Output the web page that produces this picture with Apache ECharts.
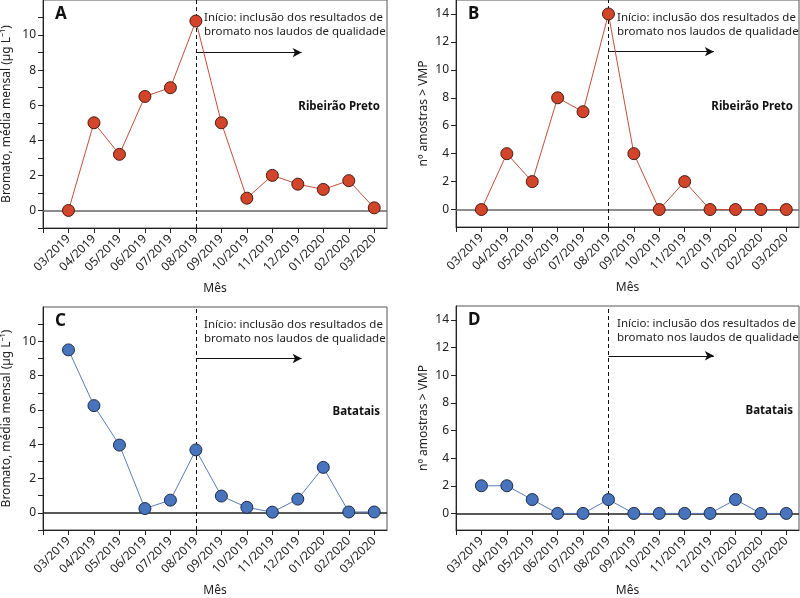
<!DOCTYPE html>
<html>
<head>
<meta charset="utf-8">
<script src="https://cdn.jsdelivr.net/npm/echarts@6/dist/echarts.min.js"></script>
<style>html,body{margin:0;padding:0;background:#fff}#c{width:800px;height:598px}</style>
</head>
<body>
<div id="c"></div>
<script>
const months = ['03/2019','04/2019','05/2019','06/2019','07/2019','08/2019','09/2019','10/2019','11/2019','12/2019','01/2020','02/2020','03/2020'];
const ribeiraoBromato = [0, 5, 3.2, 6.5, 7, 10.8, 5, 0.7, 2, 1.5, 1.2, 1.7, 0.15];
const ribeiraoAmostras = [0, 4, 2, 8, 7, 14, 4, 0, 2, 0, 0, 0, 0];
const batataisBromato = [9.5, 6.25, 3.95, 0.25, 0.74, 3.67, 0.98, 0.32, 0.04, 0.8, 2.65, 0.05, 0.05];
const batataisAmostras = [2, 2, 1, 0, 0, 1, 0, 0, 0, 0, 1, 0, 0];
const bromatoLabels = [0, 2, 4, 6, 8, 10];
const bromatoTicks = [-1, 0, 1, 2, 3, 4, 5, 6, 7, 8, 9, 10, 11];
const amostrasLabels = [0, 2, 4, 6, 8, 10, 12, 14];
const startMonthIndex = 5; // 08/2019
const noteText = 'Início: inclusão dos resultados de\nbromato nos laudos de qualidade';
const panelLetters = ['A', 'B', 'C', 'D'];
const cityNames = ['Ribeirão Preto', 'Ribeirão Preto', 'Batatais', 'Batatais'];
const yNames = ['Bromato, média mensal (µg L⁻¹)', 'nº amostras > VMP', 'Bromato, média mensal (µg L⁻¹)', 'nº amostras > VMP'];

const FONT = 'Noto Sans';
const RED = '#d2452a', RED_LINE = '#c0503c', RED_BORDER = '#4a1a10';
const BLUE = '#4874bd', BLUE_LINE = '#5a7db5', BLUE_BORDER = '#1c2c48';

const panels = [
  {grid:{left:43, top:0, width:344, height:228}, ymin:-1, ymax:12, labels:bromatoLabels, ticks:bromatoTicks, data:ribeiraoBromato, color:RED, line:RED_LINE, border:RED_BORDER, arrowY:9, zero:'#666'},
  {grid:{left:456, top:0, width:343, height:227}, ymin:-1.25, ymax:15, labels:amostrasLabels, ticks:amostrasLabels, data:ribeiraoAmostras, color:RED, line:RED_LINE, border:RED_BORDER, arrowY:11.3, zero:'#666'},
  {grid:{left:43, top:307, width:344, height:226}, ymin:-1, ymax:12, labels:bromatoLabels, ticks:bromatoTicks, data:batataisBromato, color:BLUE, line:BLUE_LINE, border:BLUE_BORDER, arrowY:9, zero:'#222'},
  {grid:{left:456, top:306, width:343, height:226}, ymin:-1.2, ymax:15, labels:amostrasLabels, ticks:amostrasLabels, data:batataisAmostras, color:BLUE, line:BLUE_LINE, border:BLUE_BORDER, arrowY:11.4, zero:'#222'}
];

const xTickVals = [0].concat(months.map((m, i) => i + 1));
const xLabelVals = months.map((m, i) => i + 1);

const grids = [], xAxes = [], yAxes = [], series = [], graphics = [];
panels.forEach((p, k) => {
  grids.push(Object.assign({show:true, borderColor:'#555', borderWidth:1, backgroundColor:'transparent'}, p.grid));
  xAxes.push({
    type:'value', gridIndex:k, min:0, max:13.5,
    name:'Mês', nameLocation:'middle', nameGap:55,
    nameTextStyle:{fontFamily:FONT, fontSize:12, color:'#222'},
    axisLine:{show:true, onZero:false, lineStyle:{color:'#222', width:1}},
    axisTick:{show:true, length:5, customValues:xTickVals, lineStyle:{color:'#222'}},
    axisLabel:{customValues:xLabelVals, rotate:45, fontFamily:FONT, fontSize:12, color:'#222', margin:9,
      formatter:v => months[Math.round(v) - 1] || ''},
    splitLine:{show:false}
  });
  yAxes.push({
    type:'value', gridIndex:k, min:p.ymin, max:p.ymax,
    name:yNames[k], nameLocation:'middle', nameGap:k % 2 ? 26 : 30,
    nameTextStyle:{fontFamily:FONT, fontSize:12, color:'#222'},
    axisLine:{show:true, onZero:false, lineStyle:{color:'#222', width:1}},
    axisTick:{show:true, length:5, customValues:p.ticks, lineStyle:{color:'#222'}},
    axisLabel:{customValues:p.labels, fontFamily:FONT, fontSize:12, color:'#222', margin:7},
    splitLine:{show:false}
  });
  series.push({
    type:'line', xAxisIndex:k, yAxisIndex:k,
    data:p.data.map((v, i) => [i + 1, v]),
    symbol:'circle', symbolSize:12,
    lineStyle:{color:p.line, width:1},
    itemStyle:{color:p.color, borderColor:p.border, borderWidth:1},
    z:5,
    markLine:{
      silent:true, symbol:'none', animation:false,
      label:{show:false},
      data:[
        {yAxis:0, lineStyle:{color:p.zero, width:1.5, type:'solid'}},
        {xAxis:startMonthIndex + 1, lineStyle:{color:'#111', width:1, type:[4,3]}},
        [{coord:[startMonthIndex + 1, p.arrowY], symbol:'none'},
         {coord:[10.15, p.arrowY], symbol:'arrow', symbolSize:[7,9], lineStyle:{color:'#111', width:1, type:'solid'}}]
      ]
    }
  });
  const gx = p.grid.left, gy = p.grid.top;
  graphics.push({type:'text', left:gx + 12, top:gy + 6, style:{text:panelLetters[k], font:'bold 17px ' + FONT, fill:'#111'}});
  graphics.push({type:'text', x:gx + 161, y:gy + 25, style:{text:noteText, font:'11.5px ' + FONT, fill:'#222', lineHeight:14, verticalAlign:'middle'}});
  graphics.push({type:'text', x:gx + 337, y:gy + (k < 2 ? 107 : 105), style:{text:cityNames[k], font:'bold 11.5px ' + FONT, fill:'#111', align:'right', verticalAlign:'middle'}});
});

const chart = echarts.init(document.getElementById('c'), null, {renderer:'canvas'});
chart.setOption({
  animation:false,
  backgroundColor:'#fff',
  grid:grids, xAxis:xAxes, yAxis:yAxes, series:series, graphic:graphics
});
</script>
</body>
</html>
